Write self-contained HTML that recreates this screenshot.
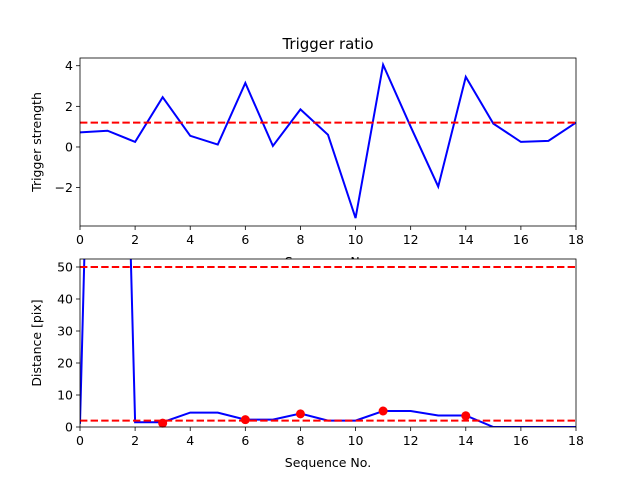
<!DOCTYPE html>
<html><head><meta charset="utf-8"><style>
body{margin:0;background:#fff}
svg{font-family:"DejaVu Sans","Liberation Sans",sans-serif}
</style></head><body>
<svg id="c" width="640" height="480" xmlns="http://www.w3.org/2000/svg"></svg>
<script>
const xs=[0,1,2,3,4,5,6,7,8,9,10,11,12,13,14,15,16,17,18];
const topVals=[0.72,0.8,0.25,2.45,0.55,0.12,3.15,0.05,1.85,0.6,-3.5,4.05,1.0,-1.95,3.45,1.15,0.25,0.3,1.2];
const topThresh=1.2;
const botVals=[1,330,1.5,1.5,4.5,4.5,2.3,2.3,4.2,2,2,5,5,3.6,3.6,0,0,0,0];
const dotX=[3,6,8,11,14];
const dotY=[1.2,2.3,4.1,5,3.5];
const botThresh=[50,2];
const xTicks=[0,2,4,6,8,10,12,14,16,18];
const topTicks=[-2,0,2,4];
const botTicks=[0,10,20,30,40,50];
const NS="http://www.w3.org/2000/svg";
const svg=document.getElementById('c');
function mk(t,a,p){const e=document.createElementNS(NS,t);for(const k in a)e.setAttribute(k,a[k]);(p||svg).appendChild(e);return e;}
const L=80,R=576;
const sx=v=>L+(v-0)/(18-0)*(R-L);
function panel(name,top,bot,ymin,ymax,yticks,ylabel){
  const sy=v=>bot-(v-ymin)/(ymax-ymin)*(bot-top);
  const g=mk('g',{});
  
  
  mk('rect',{x:L,y:top,width:R-L,height:bot-top,fill:'#fff'},g);
  const clipId=name+'-clip';
  const cp=mk('clipPath',{id:clipId},g);
  mk('rect',{x:L,y:top,width:R-L,height:bot-top},cp);
  const plot=mk('g',{'clip-path':'url(#'+clipId+')'},g);
  xTicks.forEach(t=>{
    const l=mk('line',{x1:sx(t),x2:sx(t),y1:bot,y2:bot+4,stroke:'#000','stroke-width':0.8},g);
    
    
    const tx=mk('text',{x:sx(t),y:bot+18,'font-size':12.5,'text-anchor':'middle'},g);
    tx.textContent=t;
    
    
  });
  yticks.forEach(t=>{
    mk('line',{x1:L-4,x2:L,y1:sy(t),y2:sy(t),stroke:'#000','stroke-width':0.8},g);
    const tx=mk('text',{x:L-7,y:sy(t)+4.5,'font-size':12.5,'text-anchor':'end'},g);
    tx.textContent=t<0?'\u2212'+(-t):t;
    
    
  });
  const yl=mk('text',{x:0,y:0,'font-size':12.5,'text-anchor':'middle',transform:`translate(41,${(top+bot)/2}) rotate(-90)`},g);
  yl.textContent=ylabel;
  
  
  const xl=mk('text',{x:(L+R)/2,y:bot+40,'font-size':12.5,'text-anchor':'middle'},g);
  xl.textContent='Sequence No.';
  
  
  return {sy,plot,g,top,bot};
}
function frame(p){
  const f=mk('rect',{x:L,y:p.top,width:R-L,height:p.bot-p.top,fill:'none',stroke:'#000','stroke-width':0.8},p.g);
  
  
}
// top
const p1=panel('trigger-panel',58,226,-3.89,4.38,topTicks,'Trigger strength');
let d=xs.map((x,i)=>(i?'L':'M')+sx(x)+','+p1.sy(topVals[i])).join('');
let ln=mk('path',{d,fill:'none',stroke:'#0000ff','stroke-width':2},p1.plot);


let th=mk('line',{x1:L,x2:R,y1:p1.sy(topThresh),y2:p1.sy(topThresh),stroke:'#ff0000','stroke-width':2,'stroke-dasharray':'7.4,3.2'},p1.plot);


frame(p1);
const t=mk('text',{x:328,y:49,'font-size':15,'text-anchor':'middle'});
t.textContent='Trigger ratio';


// bottom
const p2=panel('distance-panel',259,427,0,52.5,botTicks,'Distance [pix]');
d=xs.map((x,i)=>(i?'L':'M')+sx(x)+','+p2.sy(botVals[i])).join('');
ln=mk('path',{d,fill:'none',stroke:'#0000ff','stroke-width':2},p2.plot);


botThresh.forEach(v=>{
  const l=mk('line',{x1:L,x2:R,y1:p2.sy(v),y2:p2.sy(v),stroke:'#ff0000','stroke-width':2,'stroke-dasharray':'7.4,3.2'},p2.plot);
  
  
});
dotX.forEach((x,i)=>{
  const c=mk('circle',{cx:sx(x),cy:p2.sy(dotY[i]),r:4.5,fill:'#ff0000'},p2.g);
  
  
});
frame(p2);
</script>
</body></html>
